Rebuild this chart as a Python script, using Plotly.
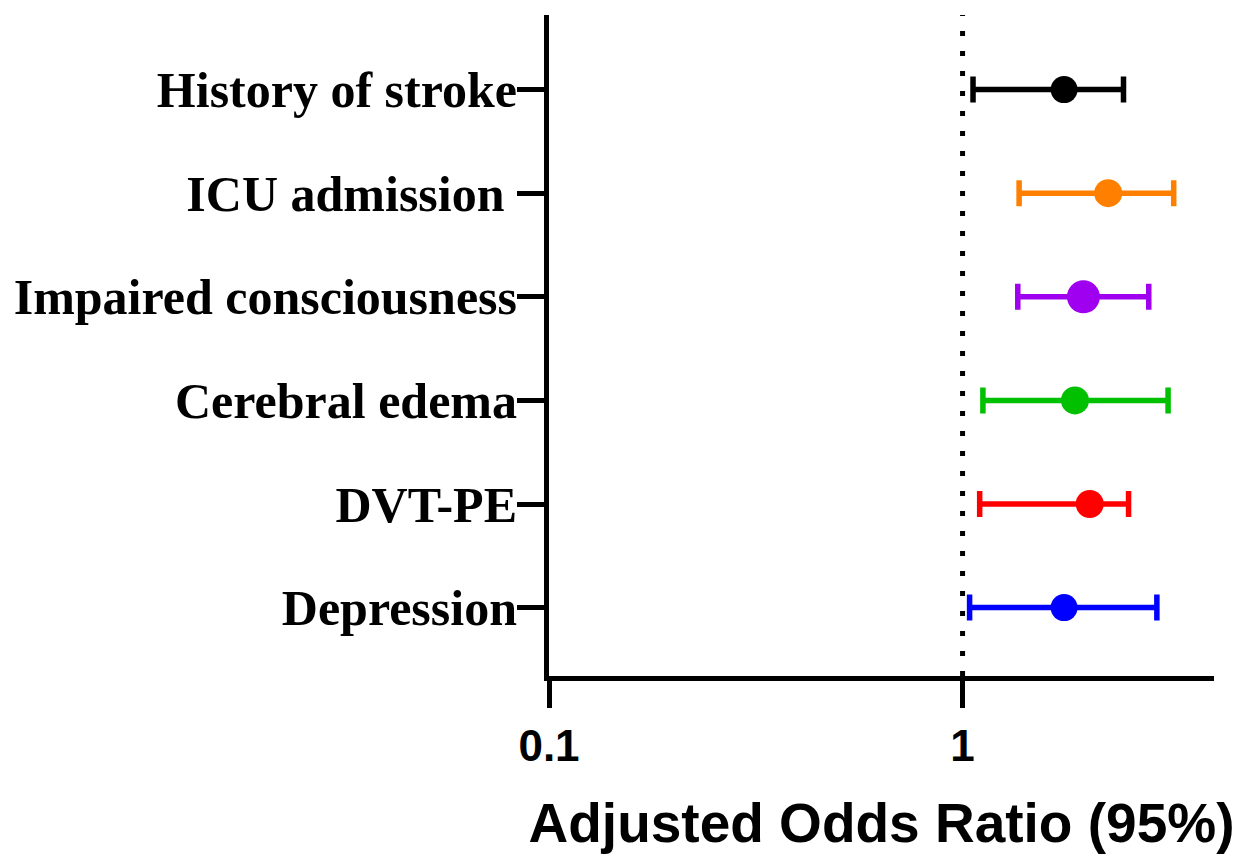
import plotly.graph_objects as go

categories = ["History of stroke", "ICU admission\u00a0", "Impaired consciousness",
              "Cerebral edema", "DVT-PE", "Depression"]
odds_ratio = [1.76, 2.25, 1.96, 1.87, 2.03, 1.76]
ci_low = [1.06, 1.37, 1.36, 1.12, 1.10, 1.04]
ci_high = [2.45, 3.24, 2.82, 3.14, 2.52, 2.95]
colors = ["#000000", "#FF8000", "#A000F0", "#00C000", "#FF0000", "#0000FF"]
marker_sizes = [27, 28, 33, 28, 28, 27]
positions = [5, 4, 3, 2, 1, 0]
x_ticks = [0.1, 1]
x_tick_text = ["0.1", "1"]
ref_value = 1

fig = go.Figure()
for i, cat in enumerate(categories):
    fig.add_trace(go.Scatter(
        x=[odds_ratio[i]], y=[positions[i]], mode="markers", name=cat,
        marker=dict(color=colors[i], size=marker_sizes[i], line=dict(width=0)),
        error_x=dict(type="data", symmetric=False,
                     array=[ci_high[i] - odds_ratio[i]],
                     arrayminus=[odds_ratio[i] - ci_low[i]],
                     color=colors[i], thickness=5.5, width=13),
        showlegend=False, cliponaxis=False,
    ))

fig.add_shape(type="line", xref="x", yref="paper", x0=ref_value, x1=ref_value,
              y0=0, y1=1.0, line=dict(color="black", width=5, dash="5px,15px"),
              layer="below")

fig.update_layout(
    width=1235, height=856,
    margin=dict(l=549, r=21, t=15, b=174),
    paper_bgcolor="white", plot_bgcolor="white",
    xaxis=dict(
        type="log", range=[-1, 0.608],
        tickvals=x_ticks, ticktext=x_tick_text,
        ticks="outside", ticklen=27, tickwidth=5, tickcolor="black",
        showline=True, linewidth=5, linecolor="black",
        showgrid=False, zeroline=False,
        tickfont=dict(family="Liberation Sans, Arial", size=44, color="black", weight="bold"),
        title=dict(text="Adjusted Odds Ratio (95%)", standoff=36,
                   font=dict(family="Liberation Sans, Arial", size=55, color="black", weight="bold")),
    ),
    yaxis=dict(
        range=[-0.66, 5.72],
        tickvals=positions, ticktext=categories,
        ticks="outside", ticklen=27, tickwidth=5, tickcolor="black",
        showline=True, linewidth=5, linecolor="black",
        showgrid=False, zeroline=False,
        ticklabelstandoff=-10,
        tickfont=dict(family="Liberation Serif, Times New Roman", size=50, color="black", weight="bold"),
    ),
)

fig.write_html("out.html", config={"displayModeBar": False},
               post_script="document.body.style.margin='0';document.body.style.overflow='hidden';")
